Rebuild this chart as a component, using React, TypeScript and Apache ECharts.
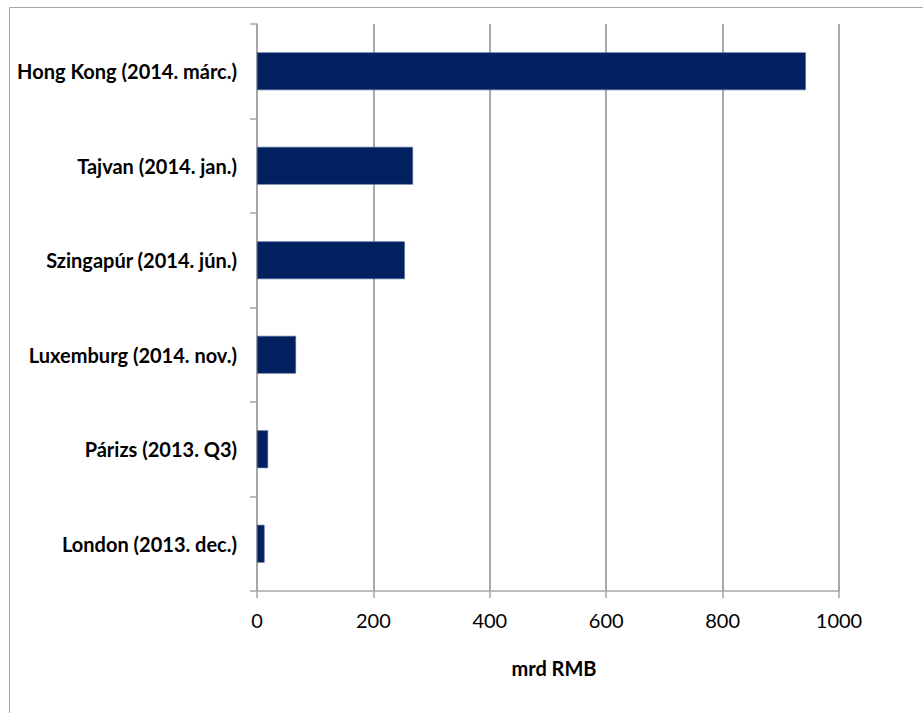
import React, { useEffect, useRef } from "react";
import * as echarts from "echarts";

const categories = [
  "London (2013. dec.)",
  "Párizs (2013. Q3)",
  "Luxemburg (2014. nov.)",
  "Szingapúr (2014. jún.)",
  "Tajvan (2014. jan.)",
  "Hong Kong (2014. márc.)",
];
const values = [13, 19, 67, 254, 268, 943];
const xMin = 0;
const xMax = 1000;
const xInterval = 200;
const axisTitle = "mrd RMB";

export default function App() {
  const ref = useRef<HTMLDivElement>(null);
  useEffect(() => {
    document.body.style.margin = "0";
    const chart = echarts.init(ref.current!, null, { renderer: "svg" });
    const font = "Lato, 'Open Sans', sans-serif";
    chart.setOption({
      animation: false,
      backgroundColor: "#ffffff",
      graphic: [
        {
          type: "rect",
          shape: { x: 9.5, y: 7.5, width: 1000, height: 1000 },
          style: { fill: "none", stroke: "#a6a6a6", lineWidth: 1 },
          silent: true,
        },
      ],
      grid: { left: 257, top: 24, width: 582, height: 567, containLabel: false },
      xAxis: {
        type: "value",
        min: xMin,
        max: xMax,
        interval: xInterval,
        axisLine: { show: true, lineStyle: { color: "#a6a6a6", width: 1.5 } },
        axisTick: { show: true, length: 7, lineStyle: { color: "#a6a6a6", width: 1.5 } },
        splitLine: { show: true, lineStyle: { color: "#8c8c8c", width: 1.5 } },
        axisLabel: {
          color: "#000",
          fontFamily: font,
          fontSize: 20,
          margin: 19,
          formatter: (v: number) => String(v),
        },
        name: axisTitle,
        nameLocation: "middle",
        nameGap: 67,
        nameTextStyle: {
          color: "#000",
          fontFamily: font,
          fontSize: 20,
          fontWeight: "bold",
          padding: [0, 0, 0, 12],
        },
      },
      yAxis: {
        type: "category",
        data: categories,
        axisLine: { show: true, lineStyle: { color: "#a6a6a6", width: 1.5 } },
        axisTick: { show: true, length: 7, inside: false, lineStyle: { color: "#a6a6a6", width: 1.5 } },
        axisLabel: { color: "#000", fontFamily: font, fontSize: 20, fontWeight: "bold", margin: 20 },
        splitLine: { show: false },
      },
      series: [
        {
          type: "bar",
          data: values,
          barCategoryGap: "60%",
          itemStyle: { color: "#002060", borderColor: "#4a6296", borderWidth: 0.6 },
        },
      ],
    });
    return () => chart.dispose();
  }, []);
  return <div ref={ref} style={{ width: 923, height: 713 }} />;
}
